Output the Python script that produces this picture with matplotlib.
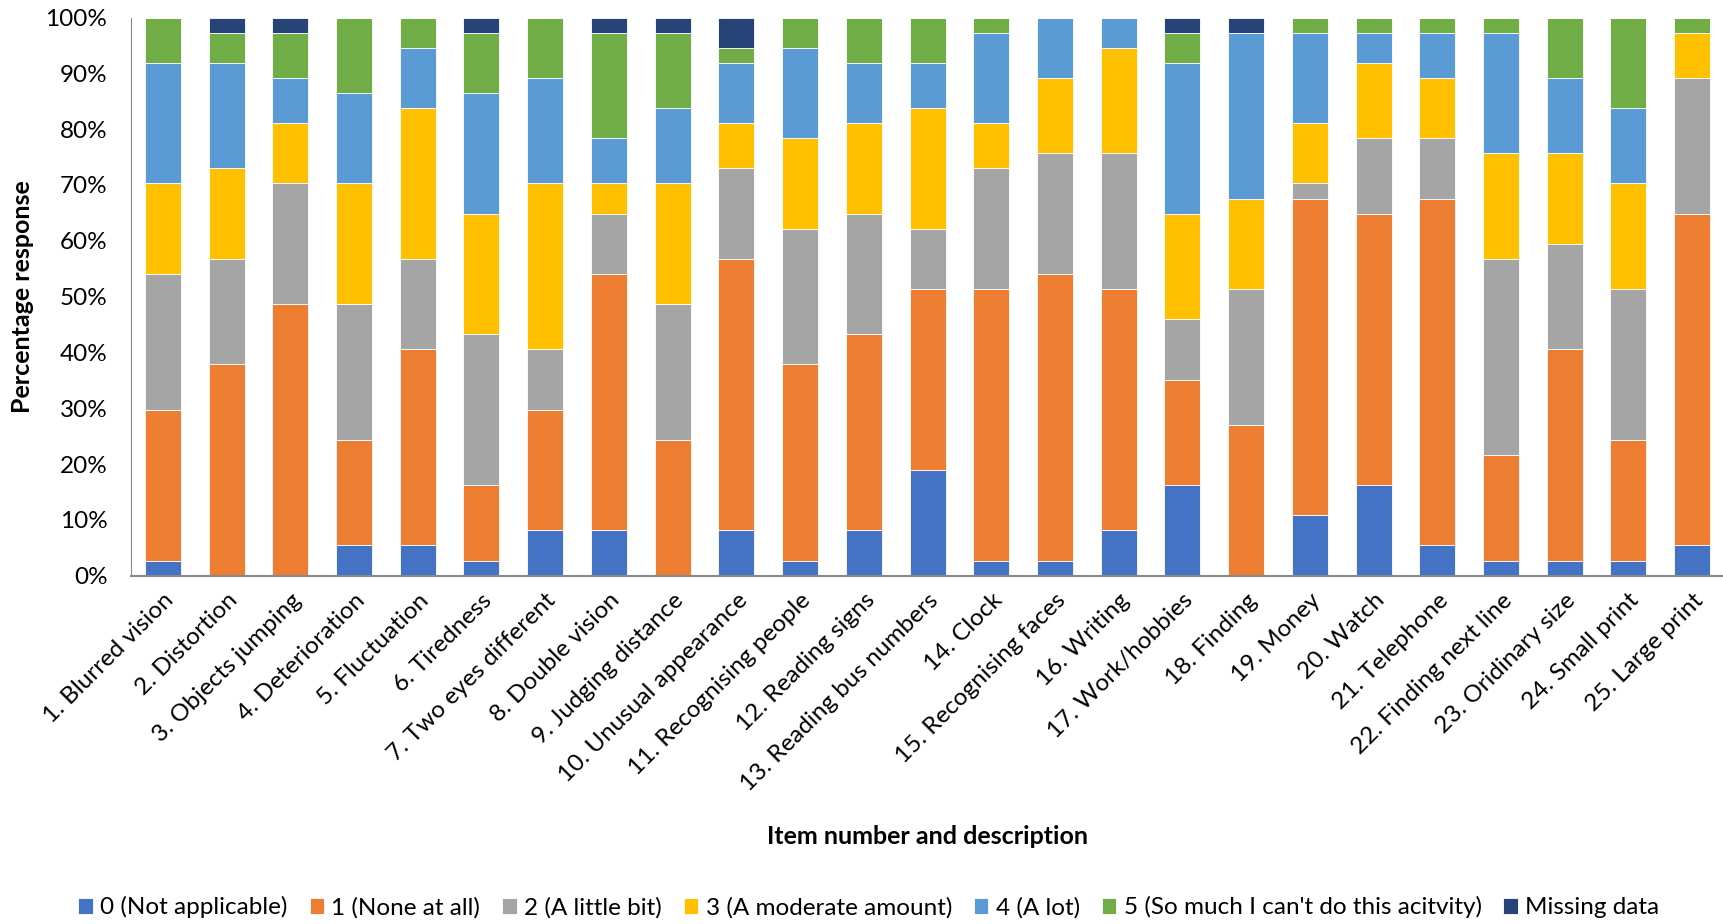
import matplotlib.pyplot as plt
import numpy as np

plt.rcParams['font.family'] = ['Lato', 'DejaVu Sans']

# response counts per item (n = 37)
items = ['1. Blurred vision', '2. Distortion', '3. Objects jumping', '4. Deterioration',
         '5. Fluctuation', '6. Tiredness', '7. Two eyes different', '8. Double vision',
         '9. Judging distance', '10. Unusual appearance', '11. Recognising people',
         '12. Reading signs', '13. Reading bus numbers', '14. Clock', '15. Recognising faces',
         '16. Writing', '17. Work/hobbies', '18. Finding', '19. Money', '20. Watch',
         '21. Telephone', '22. Finding next line', '23. Oridinary size', '24. Small print',
         '25. Large print']

not_applicable = [1, 0, 0, 2, 2, 1, 3, 3, 0, 3, 1, 3, 7, 1, 1, 3, 6, 0, 4, 6, 2, 1, 1, 1, 2]
none_at_all    = [10, 14, 18, 7, 13, 5, 8, 17, 9, 18, 13, 13, 12, 18, 19, 16, 7, 10, 21, 18, 23, 7, 14, 8, 22]
little_bit     = [9, 7, 8, 9, 6, 10, 4, 4, 9, 6, 9, 8, 4, 8, 8, 9, 4, 9, 1, 5, 4, 13, 7, 10, 9]
moderate       = [6, 6, 4, 8, 10, 8, 11, 2, 8, 3, 6, 6, 8, 3, 5, 7, 7, 6, 4, 5, 4, 7, 6, 7, 3]
a_lot          = [8, 7, 3, 6, 4, 8, 7, 3, 5, 4, 6, 4, 3, 6, 4, 2, 10, 11, 6, 2, 3, 8, 5, 5, 0]
so_much        = [3, 2, 3, 5, 2, 4, 4, 7, 5, 1, 2, 3, 3, 1, 0, 0, 2, 0, 1, 1, 1, 1, 4, 6, 1]
missing        = [0, 1, 1, 0, 0, 1, 0, 1, 1, 2, 0, 0, 0, 0, 0, 0, 1, 1, 0, 0, 0, 0, 0, 0, 0]

series = [not_applicable, none_at_all, little_bit, moderate, a_lot, so_much, missing]
labels = ['0 (Not applicable)', '1 (None at all)', '2 (A little bit)', '3 (A moderate amount)',
          '4 (A lot)', "5 (So much I can't do this acitvity)", 'Missing data']
colors = ['#4472C4', '#ED7D31', '#A5A5A5', '#FFC000', '#5B9BD5', '#70AD47', '#264478']

counts = np.array(series, dtype=float)
pct = counts / counts.sum(axis=0) * 100

fig = plt.figure(figsize=(17.24, 9.24), dpi=100)
ax = fig.add_axes([0.076, 0.377, 0.924, 0.604])

x = np.arange(len(items))
bottom = np.zeros(len(items))
for vals, lab, col in zip(pct, labels, colors):
    ax.bar(x, vals, 0.565, bottom=bottom, color=col, label=lab,
           edgecolor='white', linewidth=0.6)
    bottom += vals

ax.set_xlim(-0.5, len(items) - 0.5)
ax.set_ylim(0, 100)
ax.set_yticks(np.arange(0, 101, 10))
ax.set_yticklabels([f'{v}%' for v in range(0, 101, 10)], fontsize=17.5)
ax.set_xticks(x)
ax.set_xticklabels(items, rotation=45, ha='right', rotation_mode='anchor', fontsize=17.5)
ax.tick_params(length=0)
ax.tick_params(axis='y', pad=17)
ax.tick_params(axis='x', pad=10)

for s in ['top', 'right']:
    ax.spines[s].set_visible(False)
ax.spines['left'].set_color('#898989')
ax.spines['bottom'].set_color('#898989')
ax.spines['bottom'].set_linewidth(1.5)

ax.set_ylabel('Percentage response', fontsize=18, fontweight='bold', labelpad=8)
fig.text(0.538, 0.095, 'Item number and description', ha='center', va='center',
         fontsize=18, fontweight='bold')

fig.legend(loc='center', bbox_to_anchor=(0.504, 0.018), ncol=7, frameon=False,
           fontsize=17.5, handlelength=0.6, handleheight=0.6, handletextpad=0.3,
           columnspacing=0.9)

fig.savefig('out.png', dpi=100)
